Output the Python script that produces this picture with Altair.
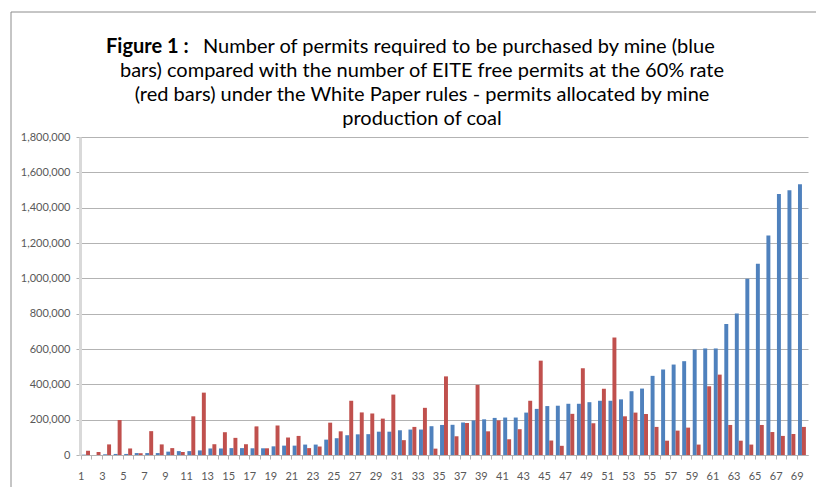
import altair as alt
import pandas as pd

# Mine index (x axis)
mines = list(range(1, 70))

# Permits to be purchased by each mine (blue bars)
purchased = [
    2000, 0, 4000, 6000, 6000, 11000, 11000, 11000, 19000, 22000,
    22000, 26000, 37000, 37000, 39000, 39000, 38000, 38000, 49000, 53000,
    53000, 59000, 59000, 87000, 95000, 112000, 117000, 118000, 132000, 132000,
    140000, 144000, 144000, 163000, 170000, 171000, 184000, 196000, 202000, 210000,
    212000, 212000, 240000, 261000, 277000, 279000, 290000, 290000, 299000, 307000,
    307000, 315000, 361000, 376000, 448000, 484000, 512000, 531000, 597000, 603000,
    603000, 741000, 801000, 997000, 1082000, 1243000, 1477000, 1498000, 1532000,
]

# EITE free permits at the 60% rate (red bars)
free_eite = [
    24000, 17000, 60000, 198000, 37000, 10000, 135000, 60000, 39000, 17000,
    219000, 353000, 61000, 129000, 97000, 61000, 162000, 38000, 167000, 99000,
    108000, 39000, 48000, 183000, 134000, 307000, 241000, 235000, 206000, 342000,
    84000, 159000, 267000, 36000, 445000, 106000, 181000, 397000, 134000, 196000,
    89000, 146000, 307000, 534000, 82000, 52000, 233000, 491000, 180000, 375000,
    665000, 219000, 240000, 232000, 159000, 81000, 138000, 155000, 59000, 389000,
    455000, 170000, 81000, 59000, 170000, 130000, 108000, 119000, 159000,
]

series_names = ["Purchased", "EITE free"]
series_colors = ["#4f81bd", "#c0504d"]

title_bold = "Figure 1 :"
title_lines = [
    "Number of permits required to be purchased by mine  (blue",
    "bars) compared with the number of EITE free permits at the 60% rate",
    "(red bars) under the White Paper rules - permits allocated by mine",
    "production of coal",
]

df = pd.DataFrame({
    "mine": mines * 2,
    "series": [series_names[0]] * len(mines) + [series_names[1]] * len(mines),
    "permits": purchased + free_eite,
})

W, H = 728, 318
FONT = "Lato"
TITLE_SIZE = 20
GREY_TEXT = "#595959"

bars = alt.Chart(df).mark_bar().encode(
    x=alt.X(
        "mine:O",
        sort=mines,
        scale=alt.Scale(paddingInner=0.25, paddingOuter=0.2),
        axis=alt.Axis(
            title=None,
            labelAngle=0,
            labelExpr="datum.value % 2 == 1 ? datum.label : ''",
            tickOffset=-5.27,
            tickSize=4,
            labelPadding=11,
            grid=False,
        ),
    ),
    xOffset=alt.XOffset("series:N", sort=series_names),
    y=alt.Y(
        "permits:Q",
        scale=alt.Scale(domain=[0, 1800000], nice=False),
        axis=alt.Axis(
            title=None,
            values=list(range(0, 1800001, 200000)),
            format=",d",
            tickSize=4,
            labelPadding=6,
            labelFontSize=11,
            domainColor="#d9d9d9",
            domainWidth=3,
        ),
    ),
    color=alt.Color(
        "series:N",
        sort=series_names,
        scale=alt.Scale(domain=series_names, range=series_colors),
        legend=None,
    ),
)

one_row = pd.DataFrame({"k": [0]})

# Chart frame (top and left edges)
frame_top = alt.Chart(one_row).mark_rule(color="#8c8c8c", strokeWidth=1).encode(
    x=alt.value(-69), x2=alt.value(760), y=alt.value(-125)
)
frame_left = alt.Chart(one_row).mark_rule(color="#8c8c8c", strokeWidth=1).encode(
    x=alt.value(-69), y=alt.value(-125), y2=alt.value(360)
)

# Title, with the figure number in bold
title_layers = [
    alt.Chart(pd.DataFrame({"t": [title_bold]})).mark_text(
        font=FONT, fontSize=TITLE_SIZE, fontWeight="bold", align="left",
        baseline="middle", color="#000000",
    ).encode(x=alt.value(26), y=alt.value(-90), text="t:N"),
    alt.Chart(pd.DataFrame({"t": [title_lines[0]]})).mark_text(
        font=FONT, fontSize=TITLE_SIZE, align="left", baseline="middle", color="#000000",
    ).encode(x=alt.value(123), y=alt.value(-90), text="t:N"),
]
for i, line in enumerate(title_lines[1:], start=1):
    title_layers.append(
        alt.Chart(pd.DataFrame({"t": [line]})).mark_text(
            font=FONT, fontSize=TITLE_SIZE, align="center", baseline="middle", color="#000000",
        ).encode(x=alt.value(342), y=alt.value(-90 + 24 * i), text="t:N")
    )

chart = alt.layer(bars, frame_top, frame_left, *title_layers).properties(
    width=W,
    height=H,
    padding={"left": 80, "top": 137, "right": 8, "bottom": 32},
    autosize=alt.AutoSizeParams(type="none"),
    background="#ffffff",
).configure_view(stroke=None).configure_axis(
    labelFont=FONT,
    labelFontSize=11,
    labelColor=GREY_TEXT,
    tickColor="#b3b3b3",
    domainColor="#b3b3b3",
    gridColor="#b3b3b3",
)

chart.save("out.html", embed_options={"renderer": "svg", "actions": False})
